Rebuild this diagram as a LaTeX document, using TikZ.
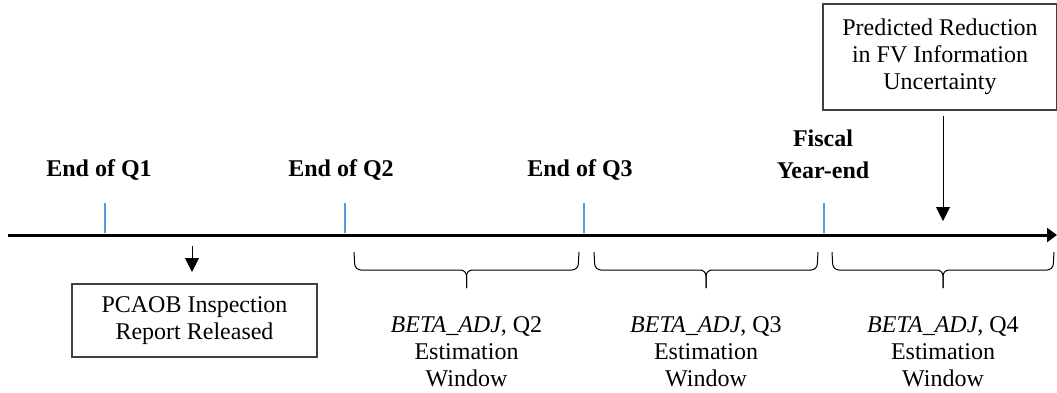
\documentclass[tikz,border=0pt]{standalone}
\usepackage{fontspec}
\setmainfont{Liberation Serif}
\usetikzlibrary{arrows.meta}

\definecolor{tickblue}{RGB}{91,155,213}
\definecolor{boxgray}{RGB}{64,64,64}

\begin{document}
\begin{tikzpicture}[x=0.5pt, y=-0.5pt,
		txt/.style = {align=center,
				font=\fontsize{12}{13.5}\selectfont},
		qlabel/.style = {txt, font=\fontsize{12}{16}\selectfont\bfseries},
		infobox/.style = {txt, draw=boxgray, line width=0.6pt,
				inner sep=0pt},
		tickmark/.style = {tickblue, line width=0.6pt},
		pointer/.style = {line width=0.5pt,
				-{Triangle[length=7pt,width=7pt]}},
		winbrace/.style = {line width=0.5pt, rounded corners=3pt}]

	\useasboundingbox (0,0) rectangle (1057,392);

	% Time line
	\coordinate (start) at (8,235);
	\coordinate (end) at (1057,235);
	\draw[line width=1.5pt, -{Triangle[length=5pt,width=7pt]}] (start) -- (end);

	% Quarter ends
	\foreach \x/\n in {105/1, 345/2, 584/3, 824/4} {
		\coordinate (t\n) at (\x,233);
		\draw[tickmark] (t\n) -- ++(0,-30);
	}
	\node[qlabel] (q1) at (99,170) {End of Q1};
	\node[qlabel] (q2) at (341,170) {End of Q2};
	\node[qlabel] (q3) at (580,170) {End of Q3};
	\node[qlabel] (fye) at (823,154) {Fiscal\\Year-end};

	% PCAOB report
	\node[infobox, minimum width=122.5pt, minimum height=36.5pt] (pcaob) at (194.5,320.5)
		{PCAOB Inspection\\Report Released};
	\coordinate (rep) at (192,246);
	\coordinate (repend) at (192,272);
	\draw[pointer] (rep) -- (repend);

	% Predicted reduction
	\node[infobox, minimum width=117pt, minimum height=53pt] (pred) at (940,57)
		{Predicted Reduction\\in FV Information\\Uncertainty};
	\coordinate (hit) at (943,221);
	\draw[pointer, shorten <=2.5pt] (hit |- pred.south) -- (hit);

	% Estimation windows
	\foreach \l/\r/\q in {354/579/2, 594/818/3, 832/1054/4} {
		\pgfmathsetmacro\m{(\l+\r)/2}
		\draw[winbrace] (\l,252) -- (\l+1,270) -- (\m,270) -- (\m,288);
		\draw[winbrace] (\r,252) -- (\r-1,270) -- (\m,270) -- (\m,288);
		\node[txt] (win\q) at (\m,352) {\textit{BETA\_ADJ}, Q\q\\Estimation\\Window};
	}

\end{tikzpicture}
\end{document}
